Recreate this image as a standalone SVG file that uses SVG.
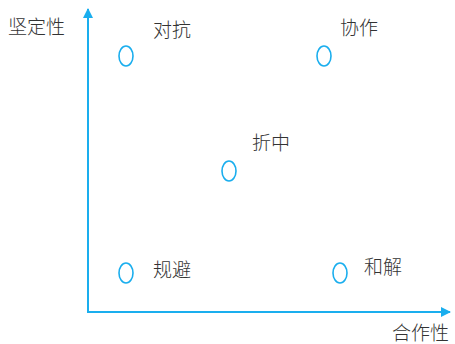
<svg xmlns="http://www.w3.org/2000/svg" width="455" height="344" viewBox="0 0 455 344">
<style>
.t{font-family:"Noto Sans CJK SC","Liberation Sans",sans-serif;font-size:19px;fill:#333;font-weight:300}
.ax{stroke:#1aaeee;stroke-width:2;fill:none}
.pt{stroke:#1aaeee;stroke-width:1.6;fill:#fff}
</style>
<defs>
<marker id="ar" viewBox="0 0 10 10" refX="9" refY="5" markerWidth="10" markerHeight="10" markerUnits="userSpaceOnUse" orient="auto">
<path d="M0,0 L10,5 L0,10 Z" fill="#1aaeee"/>
</marker>
</defs>
<g id="axes">
<path class="ax" d="M88,313 L88,9" marker-end="url(#ar)"/>
<path class="ax" d="M87,312 L450,312" marker-end="url(#ar)"/>
</g>
<g id="ylabel"><text class="t" x="8" y="34">坚定性</text></g>
<g id="xlabel"><text class="t" x="392" y="340">合作性</text></g>
<g id="n1"><ellipse class="pt" cx="126" cy="56" rx="7" ry="10"/><text class="t" x="153" y="37">对抗</text></g>
<g id="n2"><ellipse class="pt" cx="324" cy="56" rx="7" ry="10"/><text class="t" x="340" y="35">协作</text></g>
<g id="n3"><ellipse class="pt" cx="229" cy="171" rx="7" ry="10"/><text class="t" x="252" y="150">折中</text></g>
<g id="n4"><ellipse class="pt" cx="126" cy="273" rx="7" ry="10"/><text class="t" x="153" y="277">规避</text></g>
<g id="n5"><ellipse class="pt" cx="340" cy="273" rx="7" ry="10"/><text class="t" x="364" y="274">和解</text></g>
</svg>
